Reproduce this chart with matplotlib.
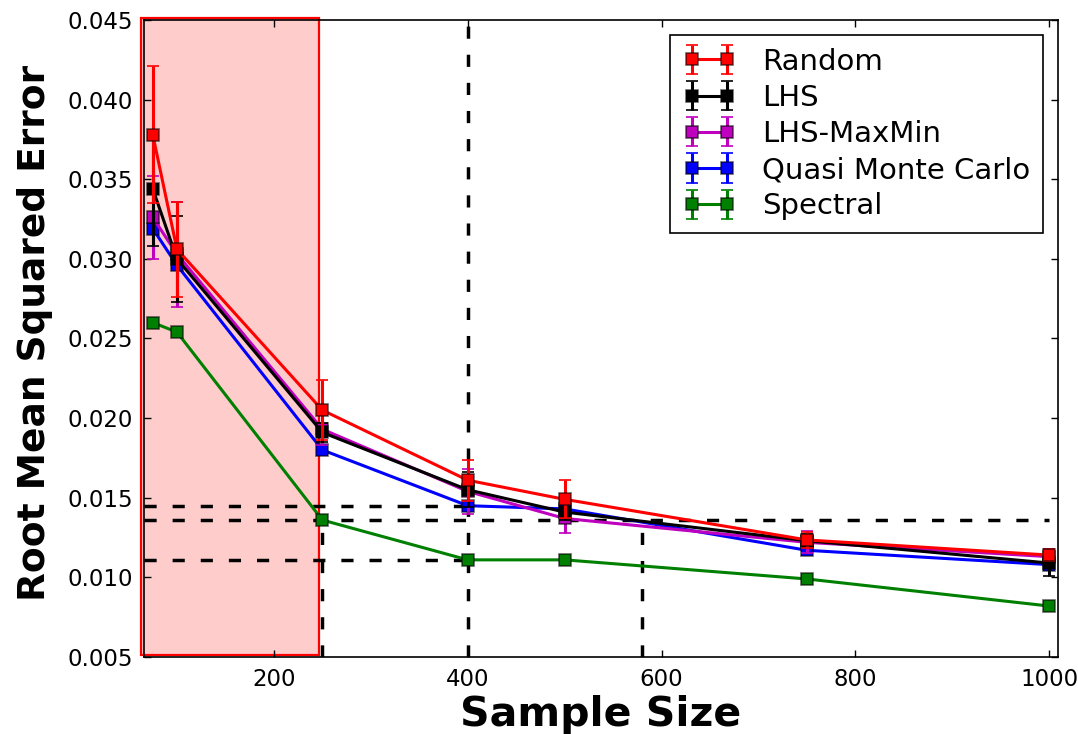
import matplotlib
matplotlib.use("Agg")
import matplotlib.pyplot as plt
from matplotlib.patches import Rectangle

# ---- data ----
sample_sizes = [75, 100, 250, 400, 500, 750, 1000]
random_rmse = [0.0378, 0.0306, 0.0205, 0.0161, 0.0149, 0.01235, 0.0114]
random_err = [0.0043, 0.0030, 0.0019, 0.0013, 0.0012, 0.0005, 0.0004]
lhs_rmse = [0.0344, 0.0300, 0.0191, 0.0155, 0.0141, 0.0123, 0.0109]
lhs_err = [0.0036, 0.0027, 0.0006, 0.0011, 0.0005, 0.0004, 0.0008]
maxmin_rmse = [0.0326, 0.0303, 0.0193, 0.0154, 0.0137, 0.0122, 0.0113]
maxmin_err = [0.0026, 0.0033, 0.0010, 0.0014, 0.0009, 0.0007, 0.0005]
qmc_rmse = [0.0319, 0.0296, 0.0180, 0.0145, 0.0143, 0.0117, 0.0108]
qmc_err = [0.0, 0.0, 0.0, 0.0, 0.0, 0.0, 0.0]
spectral_rmse = [0.0260, 0.0254, 0.0136, 0.0111, 0.0111, 0.0099, 0.0082]
spectral_err = [0.0, 0.0, 0.0, 0.0, 0.0, 0.0, 0.0]

series_names = ["Random", "LHS", "LHS-MaxMin", "Quasi Monte Carlo", "Spectral"]
series_values = [random_rmse, lhs_rmse, maxmin_rmse, qmc_rmse, spectral_rmse]
series_errors = [random_err, lhs_err, maxmin_err, qmc_err, spectral_err]
series_colors = ["#ff0000", "#000000", "#bf00bf", "#0000ff", "#008000"]

x_ticks = [200, 400, 600, 800, 1000]
y_ticks = [0.005, 0.010, 0.015, 0.020, 0.025, 0.030, 0.035, 0.040, 0.045]

# reference lines
h_lines = [(0.0145, 400), (0.0136, 1000), (0.0111, 400)]   # (y, x end)
v_lines = [(250, 0.0136), (400, 0.045), (580, 0.0136)]     # (x, y top)
shade_x = (63, 247)

plt.rcParams['font.family'] = ['DejaVu Sans']

fig = plt.figure(figsize=(10.78, 7.34), dpi=100)
fig.subplots_adjust(left=0.1336, right=0.9814, top=0.9728, bottom=0.1049)
ax = fig.add_subplot(111)

xmin, xmax = 66, 1009
ymin, ymax = 0.005, 0.045

# shaded region
rect = Rectangle((shade_x[0], 0.00515), shade_x[1] - shade_x[0], 0.0451 - 0.00515,
                 facecolor=(1, 0, 0, 0.2), edgecolor="#ff0000", linewidth=1.6,
                 clip_on=False, zorder=1)
ax.add_patch(rect)

dash = (0, (3.5, 4.6))
for y, xe in h_lines:
    ax.plot([xmin, xe], [y, y], color="k", lw=2.5, linestyle=dash, zorder=2)
for xv, yt in v_lines:
    ax.plot([xv, xv], [ymin, yt], color="k", lw=2.5, linestyle=dash, zorder=2)

handles = [None] * len(series_names)
for i in reversed(range(len(series_names))):
    c = series_colors[i]
    h = ax.errorbar(sample_sizes, series_values[i], yerr=series_errors[i],
                    color=c, ecolor=c, lw=2.2, elinewidth=2.2, capsize=4, capthick=1.5,
                    marker="s", markersize=8.5, markerfacecolor=c,
                    markeredgecolor=(0, 0, 0, 0.6), markeredgewidth=1.2,
                    label=series_names[i], zorder=3 + (len(series_names) - i))
    handles[i] = h

ax.set_xlim(xmin, xmax)
ax.set_ylim(ymin, ymax)
ax.set_xticks(x_ticks)
ax.set_yticks(y_ticks)
ax.set_yticklabels([f"{v:.3f}" for v in y_ticks])
ax.tick_params(direction="in", length=5, width=1, top=True, right=True,
               labelsize=16.5, pad=8)
for s in ax.spines.values():
    s.set_linewidth(1.2)

ax.set_xlabel("Sample Size", fontsize=29.5, fontweight="bold", labelpad=3)
ax.set_ylabel("Root Mean Squared Error", fontsize=27, fontweight="bold", labelpad=14)
ax.yaxis.set_label_coords(-0.1, 0.508)

leg = ax.legend(handles=handles, labels=series_names, loc="upper right",
                fontsize=21, numpoints=2, handlelength=1.8, handletextpad=0.9,
                labelspacing=0.28, borderpad=0.45, borderaxespad=0.5,
                fancybox=False, framealpha=1)
leg.get_frame().set_edgecolor("k")
leg.get_frame().set_linewidth(1.2)

fig.savefig("out.png", dpi=100)
